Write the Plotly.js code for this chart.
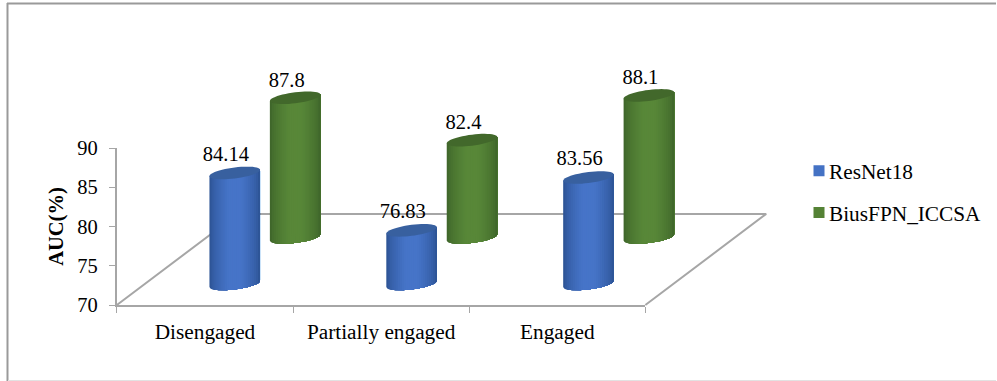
<!DOCTYPE html>
<html>
<head>
<meta charset="utf-8">
<script src="https://cdn.plot.ly/plotly-3.0.1.min.js"></script>
<style>
  html, body { margin: 0; padding: 0; background: #fff; }
  #chart { width: 997px; height: 381px; }
</style>
</head>
<body>
<div id="chart"></div>
<script>
// Chart data
const categories = ['Disengaged', 'Partially engaged', 'Engaged'];
const seriesNames = ['ResNet18', 'BiusFPN_ICCSA'];
const resnet18 = [84.14, 76.83, 83.56];
const biusFpn = [87.8, 82.4, 88.1];
const yTicks = [70, 75, 80, 85, 90];

// Page and axes geometry
const W = 997, H = 381;
const AX_L = 117, AX_R = 646, AX_T = 148, AX_B = 305;
const PX_X = (AX_R - AX_L) / 3, PX_Y = (AX_B - AX_T) / 20;

// Fake-3D projection of the floor and the cylinders, in axis units
const BASE = 70;
const FLOOR_DX = 0.686, FLOOR_DY = 11.6;
const COL_STEP = 1.004;
const HALF_W = 0.1435, ELL_B = 0.70, ELL_K = 0.40;
const rows = [
  { values: resnet18, name: seriesNames[0], dx: 0.669, dy: 2.68, labelDx: -0.05, labelDy: 2.2,
    edge: [40, 78, 140], mid: [70, 116, 200], top: '#38609f', legend: '#4472C4' },
  { values: biusFpn, name: seriesNames[1], dx: 1.012, dy: 8.60, labelDx: -0.048, labelDy: 2.05,
    edge: [58, 96, 40], mid: [88, 135, 56], top: '#42682b', legend: '#548235' }
];
const STRIPS = 26;
const serif = '"Liberation Serif", "Times New Roman", serif';
const grey = '#a6a6a6';

const shade = (a, b, f) => {
  const c = a.map((v, i) => Math.round(v + (b[i] - v) * f));
  return `rgb(${c[0]},${c[1]},${c[2]})`;
};
const traces = [];

// Floor parallelogram behind the bars; drawn on the full-page axes so it can leave the axis box
traces.push({
  x: [0, FLOOR_DX, 3 + FLOOR_DX, 3],
  y: [BASE, BASE + FLOOR_DY, BASE + FLOOR_DY, BASE],
  mode: 'lines', line: { color: grey, width: 2 },
  xaxis: 'x', yaxis: 'y', showlegend: false, hoverinfo: 'skip'
});

// Cylinders: back row first. Each body is a stack of shaded layers, every layer
// reaching the right-hand edge, so neighbouring shades leave no seams.
[rows[1], rows[0]].forEach(row => {
  row.values.forEach((value, i) => {
    const cx = i * COL_STEP + row.dx;
    const yBottom = BASE + row.dy;
    const yTop = yBottom + (value - BASE);
    for (let s = 0; s < STRIPS; s++) {
      const u0 = -1 + 2 * s / STRIPS;
      const us = [];
      const n = 2 * (STRIPS - s);
      for (let k = 0; k <= n; k++) us.push(u0 + (1 - u0) * k / n);
      const xs = [], ys = [];
      us.forEach(u => {
        xs.push(cx + HALF_W * u);
        ys.push(yBottom + ELL_K * u - ELL_B * Math.sqrt(Math.max(0, 1 - u * u)));
      });
      us.slice().reverse().forEach(u => {
        xs.push(cx + HALF_W * u);
        ys.push(yTop + ELL_K * u);
      });
      const um = Math.abs(u0 + 1 / STRIPS);
      const f = Math.min(1, Math.pow(1 - um, 0.55) * 1.15);
      traces.push({
        x: xs, y: ys, mode: 'none', fill: 'toself', fillcolor: shade(row.edge, row.mid, f),
        xaxis: 'x', yaxis: 'y', showlegend: false, hoverinfo: 'skip'
      });
    }
    // Cap ellipse
    const capX = [], capY = [];
    for (let a = 0; a <= 48; a++) {
      const t = 2 * Math.PI * a / 48, u = Math.cos(t);
      capX.push(cx + HALF_W * u);
      capY.push(yTop + ELL_K * u + ELL_B * Math.sin(t));
    }
    traces.push({
      x: capX, y: capY, mode: 'none', fill: 'toself', fillcolor: row.top,
      xaxis: 'x', yaxis: 'y', showlegend: false, hoverinfo: 'skip'
    });
  });
});

// Value labels above each cylinder
rows.forEach(row => {
  traces.push({
    x: row.values.map((v, i) => i * COL_STEP + row.dx + row.labelDx),
    y: row.values.map(v => v + row.dy + row.labelDy),
    text: row.values.map(String),
    mode: 'text', textposition: 'middle center',
    textfont: { family: serif, size: 20.5, color: '#000' },
    xaxis: 'x', yaxis: 'y', showlegend: false, hoverinfo: 'skip'
  });
});

// Legend entries
rows.forEach(row => {
  traces.push({
    x: [null], y: [null], name: row.name, legendgroup: row.name,
    xaxis: 'x2', yaxis: 'y2',
    mode: 'markers', marker: { symbol: 'square', size: 11, color: row.legend }
  });
});

const layout = {
  width: W, height: H,
  margin: { l: 0, r: 0, t: 0, b: 0, pad: 0 },
  paper_bgcolor: '#fff', plot_bgcolor: 'rgba(0,0,0,0)',
  showlegend: true,
  legend: {
    x: 800 / W, xanchor: 'left', y: 1 - 192 / H, yanchor: 'middle',
    font: { family: serif, size: 21.3, color: '#000' },
    tracegroupgap: 11, borderwidth: 0, bgcolor: 'rgba(0,0,0,0)'
  },
  // Full-page axes in the same units as the visible ones, carrying the drawn marks
  xaxis: {
    domain: [0, 1], range: [-AX_L / PX_X, (W - AX_L) / PX_X],
    visible: false, fixedrange: true
  },
  yaxis: {
    domain: [0, 1], range: [70 - (H - AX_B) / PX_Y, 70 + AX_B / PX_Y],
    visible: false, fixedrange: true
  },
  // Visible axes
  xaxis2: {
    domain: [AX_L / W, AX_R / W], anchor: 'y2',
    range: [0, 3], fixedrange: true, zeroline: false, showgrid: false,
    tickmode: 'array', tickvals: [0.5, 1.5, 2.5], ticktext: categories,
    ticks: '', ticklen: 0, ticklabelstandoff: 6,
    tickfont: { family: serif, size: 21.3, color: '#000' },
    showline: true, linecolor: grey, linewidth: 2,
    minor: { tickmode: 'array', tickvals: [0, 1, 2, 3], ticks: 'outside', ticklen: 6, tickwidth: 1, tickcolor: grey, showgrid: false }
  },
  yaxis2: {
    domain: [1 - AX_B / H, 1 - AX_T / H], anchor: 'x2',
    range: [70, 90], fixedrange: true, zeroline: false, showgrid: false,
    tickmode: 'array', tickvals: yTicks,
    ticks: 'outside', ticklen: 6, tickwidth: 1, tickcolor: grey,
    ticklabelstandoff: 7,
    tickfont: { family: serif, size: 20.5, color: '#000' },
    showline: true, linecolor: grey, linewidth: 2,
    title: { text: '<b>AUC(%)</b>', standoff: 8, font: { family: serif, size: 20.5, color: '#000' } }
  },
  shapes: [
    { type: 'line', xref: 'paper', yref: 'paper', x0: 7.5 / W, x1: 7.5 / W, y0: 0, y1: 1 - 3 / H, line: { color: '#9a9a9a', width: 2 } },
    { type: 'line', xref: 'paper', yref: 'paper', x0: 7 / W, x1: 1, y0: 1 - 3.5 / H, y1: 1 - 3.5 / H, line: { color: '#9a9a9a', width: 2 } },
    { type: 'line', xref: 'paper', yref: 'paper', x0: 8 / W, x1: 1, y0: 1 - 380.5 / H, y1: 1 - 380.5 / H, line: { color: '#e2e2e2', width: 1 } }
  ]
};

Plotly.newPlot('chart', traces, layout, { displayModeBar: false, staticPlot: true }).then(() => {
  // Tighten the gap between legend swatches and their labels
  document.querySelectorAll('#chart .legendtext').forEach(t => t.setAttribute('x', 30));
});
</script>
</body>
</html>
